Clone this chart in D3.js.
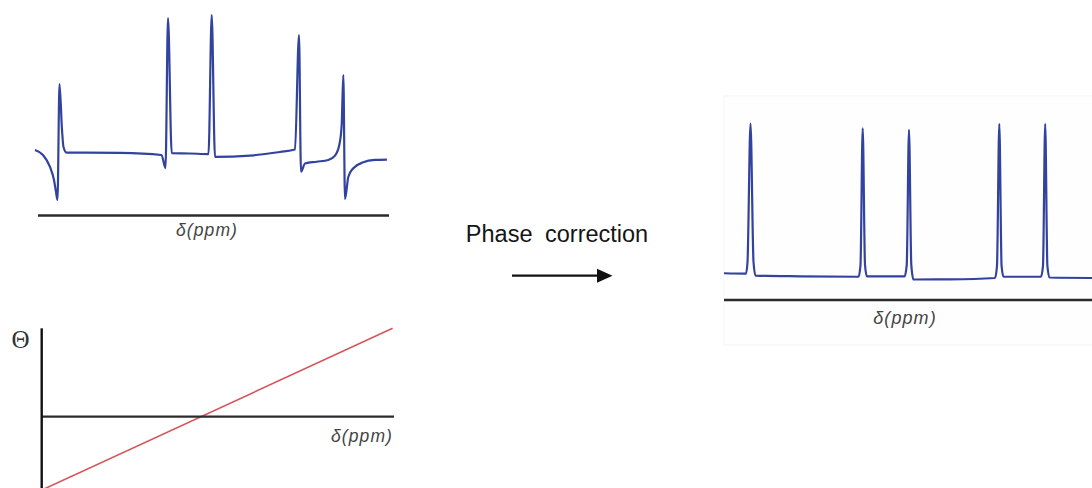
<!DOCTYPE html>
<html>
<head>
<meta charset="utf-8">
<script src="https://cdn.jsdelivr.net/npm/d3@7"></script>
<style>
  html, body { margin: 0; padding: 0; background: #fff; }
  svg { display: block; }
</style>
</head>
<body>
<svg id="fig" width="1092" height="488"></svg>
<script>
// Spectrum before phasing: chemical shift (0-100 across the window) and intensity (tallest line = 100)
const rawShift = [0, 2.27, 4.25, 5.38, 5.95, 6.37, 6.94, 7.65, 8.07, 8.92, 24.1, 35.84, 36.97, 37.68, 38.73,
  43.9, 49.15, 50.06, 50.99, 60.9, 69.4, 73.65, 74.79, 75.35, 76.49, 79.8, 83.09, 84.99, 86.2, 86.88,
  87.34, 87.82, 88.75, 90.17, 93.0, 96.3, 99.7];
const rawIntensity = [1.5, -2.2, -10.9, -20.4, -29.2, -35.0, 49.6, 16.1, 3.6, -0.4, -0.7, -2.2, -11.7, 97.8, -0.9,
  -1.1, -1.5, 100, -3.6, -2.6, 0, 1.8, 85.4, -14.4, -8.4, -7.1, -5.8, -2.6, 5.1, 19.7,
  56.2, -34.3, -18.2, -11.9, -7.5, -5.8, -5.5];

// Spectrum after phase correction
const fixedShift = [0, 5.98, 6.39, 7.2, 8.02, 8.56, 20.65, 36.55, 37.09, 37.69, 38.32, 38.86, 49.05, 49.65,
  50.27, 50.9, 51.49, 61.4, 73.64, 74.18, 74.81, 75.43, 75.95, 86.14, 86.68, 87.28, 87.88, 88.45, 100];
const fixedIntensity = [1.8, 1.6, 9.2, 100.3, 9.2, 0.3, -0.2, -0.5, 7.2, 97.2, 7.2, -0.3, -0.3, 7.2,
  96.1, 7.2, -2.3, -2.2, -1.3, 6.6, 100, 6.6, -0.5, -0.5, 6.6, 100, 6.6, -1.0, -1.3];

// Linear phase error across the spectrum
const phaseShift = [0, 99.6];
const phaseAngle = [-83, 100];

const axisLabel = "δ(ppm)";
const phaseSymbol = "Θ";
const stepLabel = "Phase correction";

const svg = d3.select("#fig");
const lineBlue = "#33429f";
const axisColor = "#2b2b2b";
const labelColor = "#444";

const defs = svg.append("defs");
defs.append("filter").attr("id", "soft")
  .append("feGaussianBlur").attr("stdDeviation", 0.35);

function spectrum(g, shift, intensity, xs, ys) {
  const pts = shift.map((d, i) => [d, intensity[i]]);
  const line = d3.line().x(d => xs(d[0])).y(d => ys(d[1])).curve(d3.curveMonotoneX);
  g.append("path").datum(pts)
    .attr("d", line)
    .attr("fill", "none")
    .attr("stroke", lineBlue)
    .attr("stroke-width", 2.2)
    .attr("stroke-linejoin", "round")
    .attr("filter", "url(#soft)");
}

function ppmLabel(g, x, y, anchor, size) {
  g.append("text")
    .attr("x", x).attr("y", y)
    .attr("text-anchor", anchor)
    .attr("font-family", "Liberation Sans, Arial, sans-serif")
    .attr("font-style", "italic")
    .attr("font-size", size)
    .attr("letter-spacing", 1.1)
    .attr("fill", labelColor)
    .text(axisLabel);
}

// ---- Top left: uncorrected spectrum ----
{
  const g = svg.append("g");
  const x = d3.scaleLinear().domain([0, 100]).range([35, 388]);
  const y = d3.scaleLinear().domain([0, 100]).range([152, 15]);
  spectrum(g, rawShift, rawIntensity, x, y);
  const ax = d3.scaleLinear().domain([0, 100]).range([38, 389]);
  g.append("line")
    .attr("x1", ax(0)).attr("x2", ax(100)).attr("y1", 215.5).attr("y2", 215.5)
    .attr("stroke", axisColor).attr("stroke-width", 2.4);
  ppmLabel(g, 207, 236, "middle", 17.5);
}

// ---- Bottom left: phase angle versus shift ----
{
  const g = svg.append("g");
  const x = d3.scaleLinear().domain([0, 100]).range([41.7, 394]);
  const y = d3.scaleLinear().domain([0, 100]).range([416.7, 328.3]);
  const pts = phaseShift.map((d, i) => [d, phaseAngle[i]]);
  g.append("path").datum(pts)
    .attr("d", d3.line().x(d => x(d[0])).y(d => y(d[1])))
    .attr("fill", "none").attr("stroke", "#d4575a").attr("stroke-width", 1.6);
  g.append("line")
    .attr("x1", x(0)).attr("x2", x(100)).attr("y1", y(0)).attr("y2", y(0))
    .attr("stroke", axisColor).attr("stroke-width", 2.2);
  g.append("line")
    .attr("x1", x(0)).attr("x2", x(0)).attr("y1", y(100)).attr("y2", 490)
    .attr("stroke", "#111").attr("stroke-width", 2.4);
  g.append("text")
    .attr("x", 20.5).attr("y", 348)
    .attr("text-anchor", "middle")
    .attr("font-family", "Liberation Serif, Times New Roman, serif")
    .attr("font-size", 25)
    .attr("fill", "#333")
    .text(phaseSymbol);
  ppmLabel(g, 393, 442, "end", 17.5);
}

// ---- Middle: step label and arrow ----
{
  const g = svg.append("g");
  g.append("text")
    .attr("x", 557).attr("y", 241.5)
    .attr("text-anchor", "middle")
    .attr("font-family", "Liberation Sans, Arial, sans-serif")
    .attr("font-size", 23.5)
    .attr("word-spacing", 6)
    .attr("fill", "#151515")
    .text(stepLabel);
  g.append("line")
    .attr("x1", 512).attr("x2", 599).attr("y1", 275.7).attr("y2", 275.7)
    .attr("stroke", "#111").attr("stroke-width", 2.2);
  g.append("path")
    .attr("d", "M597,268.7 L612.5,275.7 L597,282.7 Z")
    .attr("fill", "#111");
}

// ---- Right: corrected spectrum ----
{
  const g = svg.append("g");
  g.append("rect")
    .attr("x", 724).attr("y", 96).attr("width", 380).attr("height", 249)
    .attr("fill", "#fefefe").attr("stroke", "#f5f5f5").attr("stroke-width", 1);
  const x = d3.scaleLinear().domain([0, 100]).range([724, 1092]);
  const y = d3.scaleLinear().domain([0, 100]).range([276, 124]);
  spectrum(g, fixedShift, fixedIntensity, x, y);
  g.append("line")
    .attr("x1", 724).attr("x2", 1092).attr("y1", 300).attr("y2", 300)
    .attr("stroke", axisColor).attr("stroke-width", 2.4);
  ppmLabel(g, 905, 324, "middle", 18);
}
</script>
</body>
</html>
